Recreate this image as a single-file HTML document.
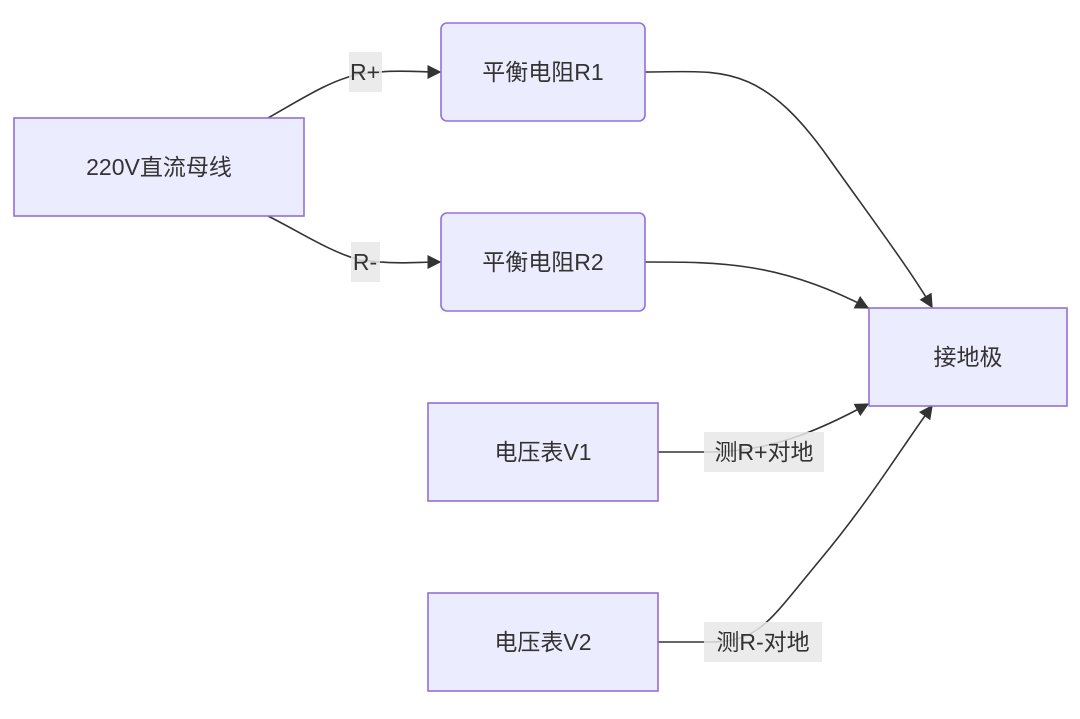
<!DOCTYPE html>
<html><head><meta charset="utf-8"><style>
body{margin:0;background:#fff;}
svg text{font-family:"Liberation Sans","Noto Sans CJK SC",sans-serif;font-size:23px;fill:#333;}
</style></head><body>
<svg width="1080" height="714" viewBox="0 0 1080 714" xmlns="http://www.w3.org/2000/svg">
<defs><marker id="a" viewBox="0 0 10 10" refX="9" refY="5" markerWidth="8" markerHeight="8" orient="auto" markerUnits="userSpaceOnUse"><path d="M0,0L10,5L0,10z" fill="#333"/></marker>
<marker id="b" viewBox="0 0 10 10" refX="9" refY="5" markerWidth="14" markerHeight="14" orient="auto" markerUnits="userSpaceOnUse"><path d="M0,0L10,5L0,10z" fill="#333"/></marker></defs>
<g fill="none" stroke="#333" stroke-width="1.6">
<path d="M268,118 C300,100 330,80 360,74 L380,72 C400,70 420,72 440,72" marker-end="url(#b)"/>
<path d="M268,216 C300,232 330,252 360,260 L380,262 C400,264 420,262 440,262" marker-end="url(#b)"/>
<path d="M645,72 C720,72 760,60 830,160 C880,230 910,270 932,307" marker-end="url(#b)"/>
<path d="M645,262 C720,262 780,262 868,308" marker-end="url(#b)"/>
<path d="M658,452 L710,452 C770,452 820,430 868,404" marker-end="url(#b)"/>
<path d="M658,642 L710,642 C760,642 770,620 820,560 C870,500 900,450 932,406" marker-end="url(#b)"/>
</g>
<g fill="#ECECFF" stroke="#9370DB" stroke-width="1.6">
<rect x="14" y="118" width="290" height="98"/>
<rect x="441" y="23" width="204" height="98" rx="6"/>
<rect x="441" y="213" width="204" height="98" rx="6"/>
<rect x="869" y="308" width="198" height="98"/>
<rect x="428" y="403" width="230" height="98"/>
<rect x="428" y="593" width="230" height="98"/>
</g>
<g fill="rgba(232,232,232,0.85)">
<rect x="349" y="52" width="33" height="40"/>
<rect x="351" y="242" width="29" height="40"/>
<rect x="704" y="432" width="120" height="40"/>
<rect x="704" y="622" width="118" height="40"/>
</g>
<g text-anchor="middle" dominant-baseline="central">
<text x="159" y="167">220V直流母线</text>
<text x="543" y="72">平衡电阻R1</text>
<text x="543" y="262">平衡电阻R2</text>
<text x="968" y="357">接地极</text>
<text x="543" y="452">电压表V1</text>
<text x="543" y="642">电压表V2</text>
<text x="365" y="72">R+</text>
<text x="365" y="262">R-</text>
<text x="764" y="452">测R+对地</text>
<text x="763" y="642">测R-对地</text>
</g>
</svg>
</body></html>
